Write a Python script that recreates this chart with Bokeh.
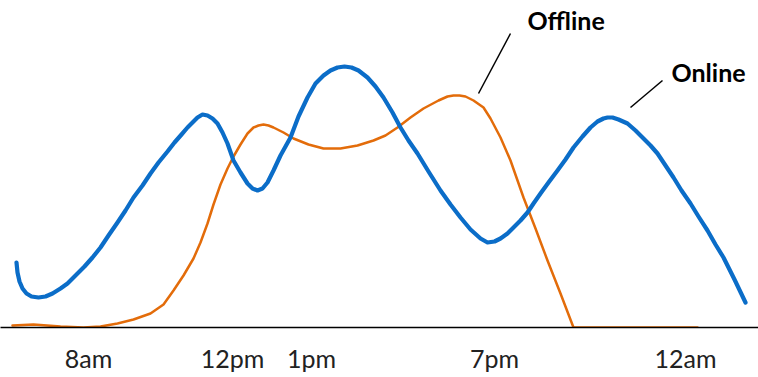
from bokeh.plotting import figure
from bokeh.models import Range1d, FixedTicker, Label
from bokeh.embed import file_html
from bokeh.resources import INLINE

# ---- data (x = position along the day axis, value = level above baseline) ----
tick_pos = [88, 232, 311, 494, 685]
tick_labels = ["8am", "12pm", "1pm", "7pm", "12am"]

online_x = [16, 17, 19, 22, 26, 31, 38, 45, 52, 60, 67, 75, 84, 92, 100, 108, 117, 125, 133,
            142, 150, 158, 167, 174, 181, 187, 192, 197, 202, 207, 212, 217, 222, 227, 233,
            240, 247, 252, 257, 262, 267, 273, 280, 290, 298, 307, 315, 323, 330, 337, 344,
            351, 358, 367, 375, 383, 392, 400, 408, 417, 428, 440, 450, 460, 470, 480, 487,
            494, 500, 507, 513, 520, 527, 533, 540, 548, 557, 565, 573, 582, 590, 597, 603,
            607, 612, 618, 627, 635, 642, 650, 657, 665, 673, 681, 690, 698, 707, 715, 723,
            734, 745]
online_y = [65, 55, 46, 39, 34, 31, 30, 31, 34, 39, 44, 52, 61, 70, 80, 92, 105, 117, 130,
            142, 154, 165, 176, 185, 193, 200, 205, 210, 213, 212, 209, 204, 195, 184, 167,
            155, 144, 139, 137, 139, 145, 157, 172, 190, 211, 230, 244, 252, 257, 260, 261,
            260, 257, 250, 241, 230, 215, 200, 187, 174, 156, 137, 123, 110, 98, 89, 85,
            86, 89, 94, 100, 107, 115, 124, 134, 145, 157, 168, 180, 191, 200, 206, 209,
            210, 210, 208, 204, 197, 190, 182, 174, 162, 150, 137, 124, 111, 97, 83, 70,
            48, 25]

offline_x = [12, 33, 60, 83, 100, 117, 133, 150, 163, 173, 183, 193, 200, 207, 213, 220, 227,
             233, 240, 247, 253, 258, 263, 268, 273, 283, 293, 308, 323, 340, 357, 373, 385,
             397, 410, 423, 438, 447, 453, 459, 465, 473, 483, 490, 500, 510, 523, 535, 547,
             560, 573, 697]
offline_y = [2, 3, 1, 0, 1, 4, 8, 14, 23, 37, 52, 69, 85, 104, 123, 143, 159, 171, 183, 194,
             200, 202, 203, 202, 200, 195, 189, 183, 179, 179, 182, 187, 192, 200, 210, 219,
             227, 231, 232, 232, 231, 227, 220, 209, 190, 167, 130, 99, 67, 34, 0, 0]

series_names = ["Offline", "Online"]

BLUE = "#0b6dc8"
ORANGE = "#e36c0a"
FONT = "Lato"

p = figure(width=758, height=377, output_backend="svg", toolbar_location=None,
           x_range=Range1d(0, 758), y_range=Range1d(0, 327),
           y_axis_location=None, min_border_left=0, min_border_right=0,
           min_border_top=0, min_border_bottom=50)
p.outline_line_color = None
p.grid.visible = False
p.background_fill_color = "white"
p.border_fill_color = "white"

p.line(offline_x, offline_y, line_color=ORANGE, line_width=2.5, line_join="round", line_cap="round")
p.line(online_x, online_y, line_color=BLUE, line_width=4.2, line_join="round", line_cap="round")

ax = p.xaxis[0]
ax.ticker = FixedTicker(ticks=tick_pos)
ax.major_label_overrides = {pos: lab for pos, lab in zip(tick_pos, tick_labels)}
ax.major_tick_line_color = None
ax.minor_tick_line_color = None
ax.axis_line_color = "black"
ax.axis_line_width = 1.6
ax.major_label_text_font = FONT
ax.major_label_text_font_size = "25px"
ax.major_label_text_color = "#222222"
ax.major_label_standoff = 9

# leader lines
p.line([510, 478], [294, 234], line_color="black", line_width=1.5)
p.line([662, 630], [247, 220], line_color="black", line_width=1.5)

p.add_layout(Label(x=527, y=308, text=series_names[0], text_font=FONT, text_font_style="bold",
                   text_font_size="25px", text_baseline="middle", text_align="left",
                   text_color="black"))
p.add_layout(Label(x=671, y=256, text=series_names[1], text_font=FONT, text_font_style="bold",
                   text_font_size="25px", text_baseline="middle", text_align="left",
                   text_color="black"))

open("out.html", "w").write(file_html(p, INLINE))
